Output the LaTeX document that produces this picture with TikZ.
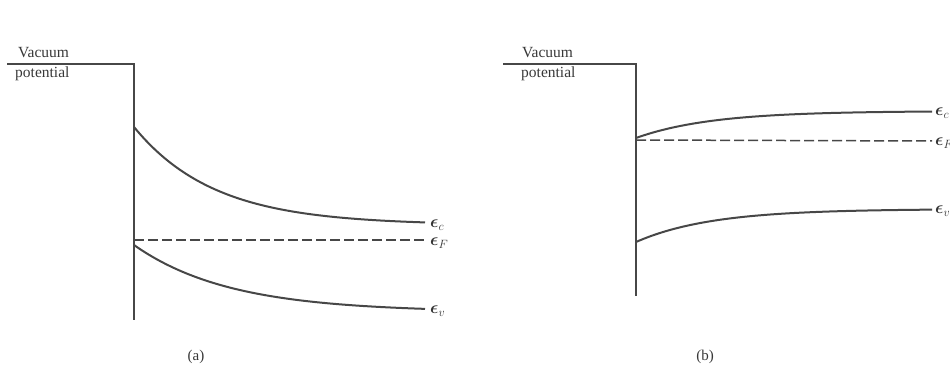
\documentclass[tikz,border=0pt]{standalone}
\usepackage{amsmath}
\usepackage{fontspec}
\setmainfont{Liberation Serif}
\begin{document}
\begin{tikzpicture}[x=1pt,y=-1pt,
  band/.style={draw=black!72,line width=2pt},
  wall/.style={draw=black!72,line width=2.6pt},
  fermi/.style={draw=black!72,line width=1.5pt,dash pattern=on 10pt off 4pt},
  lbl/.style={font=\fontsize{17}{19}\selectfont,anchor=west,inner sep=0pt,text=black!80},
  txt/.style={font=\fontsize{15.5}{17}\selectfont,anchor=west,inner sep=0pt,text=black!78},
  caplbl/.style={font=\fontsize{15}{17}\selectfont,inner sep=0pt,text=black!78}]
\useasboundingbox (0,0) rectangle (950,371);
% ---------- panel (a)
\coordinate (a0) at (7,64);
\coordinate (a1) at (134,64);
\coordinate (a2) at (134,320);
\draw[wall] (a0) -- (a1) -- (a2);
\node[txt] (avac) at (18,53) {Vacuum};
\node[txt] (apot) at (15,74) {potential};
\draw[band] plot[domain=134:425,samples=80] (\x,{225+(127-225)*exp(-(\x-134)/80)});
\draw[band] plot[domain=134:425,samples=80] (\x,{312+(245-312)*exp(-(\x-134)/95)});
\coordinate (aFs) at (134,240);
\coordinate (aFe) at (425,240);
\draw[fermi] (aFs) -- (aFe);
\node[lbl] (aec) at (430,225) {$\boldsymbol{\epsilon}_c$};
\node[lbl] (aef) at (430,243) {$\boldsymbol{\epsilon}_F$};
\node[lbl] (aev) at (430,311) {$\boldsymbol{\epsilon}_v$};
\node[caplbl] (alab) at (196,357) {(a)};
% ---------- panel (b)
\coordinate (b0) at (503,64);
\coordinate (b1) at (636,64);
\coordinate (b2) at (636,296);
\draw[wall] (b0) -- (b1) -- (b2);
\node[txt] (bvac) at (522,53) {Vacuum};
\node[txt] (bpot) at (521,74) {potential};
\draw[band] plot[domain=636:932,samples=80] (\x,{111+(138-111)*exp(-(\x-636)/75)});
\draw[band] plot[domain=636:932,samples=80] (\x,{209+(242-209)*exp(-(\x-636)/75)});
\coordinate (bFs) at (636,140);
\coordinate (bFe) at (932,141);
\draw[fermi] (bFs) -- (bFe);
\node[lbl] (bec) at (935,113) {$\boldsymbol{\epsilon}_c$};
\node[lbl] (bef) at (935,143) {$\boldsymbol{\epsilon}_F$};
\node[lbl] (bev) at (935,211) {$\boldsymbol{\epsilon}_v$};
\node[caplbl] (blab) at (705,357) {(b)};
\end{tikzpicture}
\end{document}
